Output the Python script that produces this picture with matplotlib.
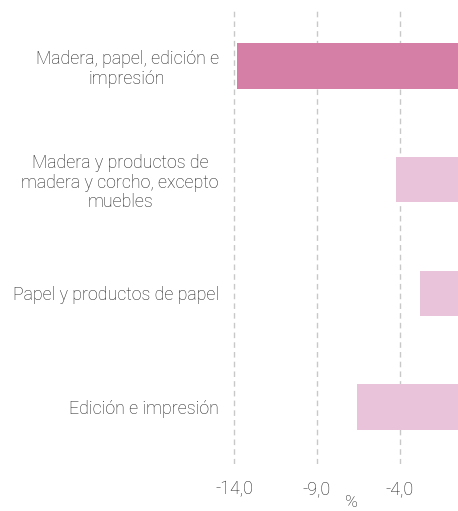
import matplotlib
matplotlib.use("Agg")
import matplotlib.pyplot as plt

# data
categories = [
    "Madera, papel, edición e\nimpresión",
    "Madera y productos de\nmadera y corcho, excepto\nmuebles",
    "Papel y productos de papel",
    "Edición e impresión",
]
values = [-13.8, -4.25, -2.8, -6.6]
tick_values = [-14.0, -9.0, -4.0]
tick_labels = ["-14,0", "-9,0", "-4,0"]
bar_colors = ["#d67fa6", "#e9c3da", "#e9c3da", "#e9c3da"]

plt.rcParams["font.family"] = ["Roboto", "DejaVu Sans"]
plt.rcParams["font.weight"] = "light"

W, H = 458, 511
fig = plt.figure(figsize=(W / 100, H / 100), dpi=100)
ax = fig.add_axes([225.7 / W, 1 - 464 / H, (W - 225.7) / W, (464 - 9) / H])

ypos = list(range(len(categories)))
ax.barh(ypos, values, height=0.4, color=bar_colors, zorder=2)

ax.set_xlim(-14.5, -0.5)
ax.set_ylim(3.5, -0.5)
ax.set_xticks(tick_values)
ax.set_xticklabels(tick_labels)
ax.set_yticks(ypos)
ax.set_yticklabels(categories, multialignment="center", linespacing=1.13)
ax.tick_params(axis="both", length=0, labelsize=12.8, colors="#1e1e1e")
ax.tick_params(axis="y", pad=5)
ax.tick_params(axis="x", pad=12)
ax.grid(axis="x", color="#c8c8c8", linestyle=(0, (4, 3)), linewidth=1, zorder=0)
for s in ax.spines.values():
    s.set_visible(False)

# axis unit sits just under the tick labels
fig.text(351 / W, 1 / H, "%", ha="center", va="bottom",
         fontsize=12.5, color="#1e1e1e")

fig.savefig("out.png", dpi=100)
